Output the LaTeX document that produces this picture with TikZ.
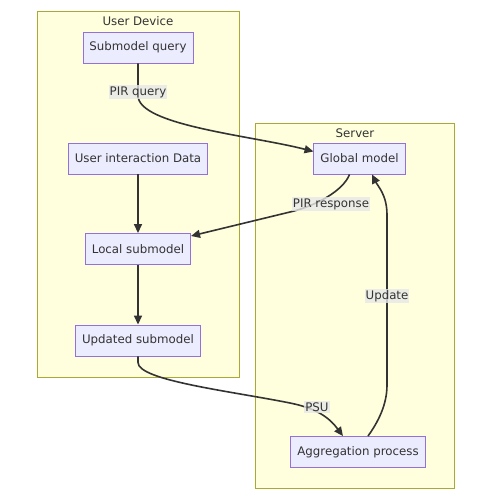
\documentclass[tikz,border=0pt]{standalone}
\usepackage{fontspec}
\setmainfont{DejaVu Sans}
\usetikzlibrary{arrows.meta}
\definecolor{nodefill}{HTML}{ECECFF}
\definecolor{nodeline}{HTML}{9370DB}
\definecolor{clusterfill}{HTML}{FFFFDE}
\definecolor{clusterline}{HTML}{AAAA33}
\definecolor{edgecol}{HTML}{333333}
\definecolor{labelbg}{HTML}{E8E8E8}
\begin{document}
\begin{tikzpicture}[x=1pt,y=-1pt,
  txt/.style={font=\fontsize{11.8}{14}\selectfont, text=edgecol},
  box/.style={txt, draw=nodeline, fill=nodefill, line width=0.9pt, minimum height=31pt, inner xsep=6.5pt},
  cluster/.style={draw=clusterline, fill=clusterfill, line width=0.9pt},
  edge/.style={draw=edgecol, line width=1.6pt, -{Triangle[length=9pt,width=8pt]}},
  elabel/.style={txt, fill=labelbg, fill opacity=0.8, text opacity=1, inner xsep=1pt, inner ysep=1.5pt}
]
\useasboundingbox[fill=white] (0,0) rectangle (487,500);
% clusters
\draw[cluster] (37,11) rectangle (239,377);
\draw[cluster] (255,123) rectangle (454,488);
\node[txt] (tud) at (138,21) {User Device};
\node[txt] (tsv) at (355,133) {Server};
% nodes
\node[box] (sq) at (138,47.5) {Submodel query};
\node[box] (ui) at (138,158.5) {User interaction Data};
\node[box] (ls) at (138,249) {Local submodel};
\node[box] (us) at (138,340.5) {Updated submodel};
\node[box] (gm) at (359.5,158.5) {Global model};
\node[box] (ap) at (358,452) {Aggregation process};
% edges
\draw[edge] (sq.south) -- ++(0,32) .. controls +(0,30) and +(-62,-16) .. ([yshift=7pt]gm.west);
\draw[edge] ([xshift=-10pt]gm.south) .. controls +(-6,16) and +(26,-6) .. (290,212) -- ([yshift=13pt]ls.east);
\draw[edge] (ui) -- (ls);
\draw[edge] (ls) -- (us);
\draw[edge] (us.south) -- ++(0,6) .. controls +(0,18) and +(-60,-12) .. (290,403) .. controls +(30,6) and +(-12,-16) .. ([xshift=-15pt]ap.north);
\draw[edge] ([xshift=10pt]ap.north) .. controls +(10,-14) and +(0,20) .. (387,385) -- (387,215) .. controls +(0,-20) and +(6,12) .. ([xshift=12.5pt]gm.south);
% edge labels
\node[elabel] (l1) at (138,92) {PIR query};
\node[elabel] (l2) at (331,204) {PIR response};
\node[elabel] (l3) at (387,296) {Update};
\node[elabel] (l4) at (317,407) {PSU};
\end{tikzpicture}
\end{document}
